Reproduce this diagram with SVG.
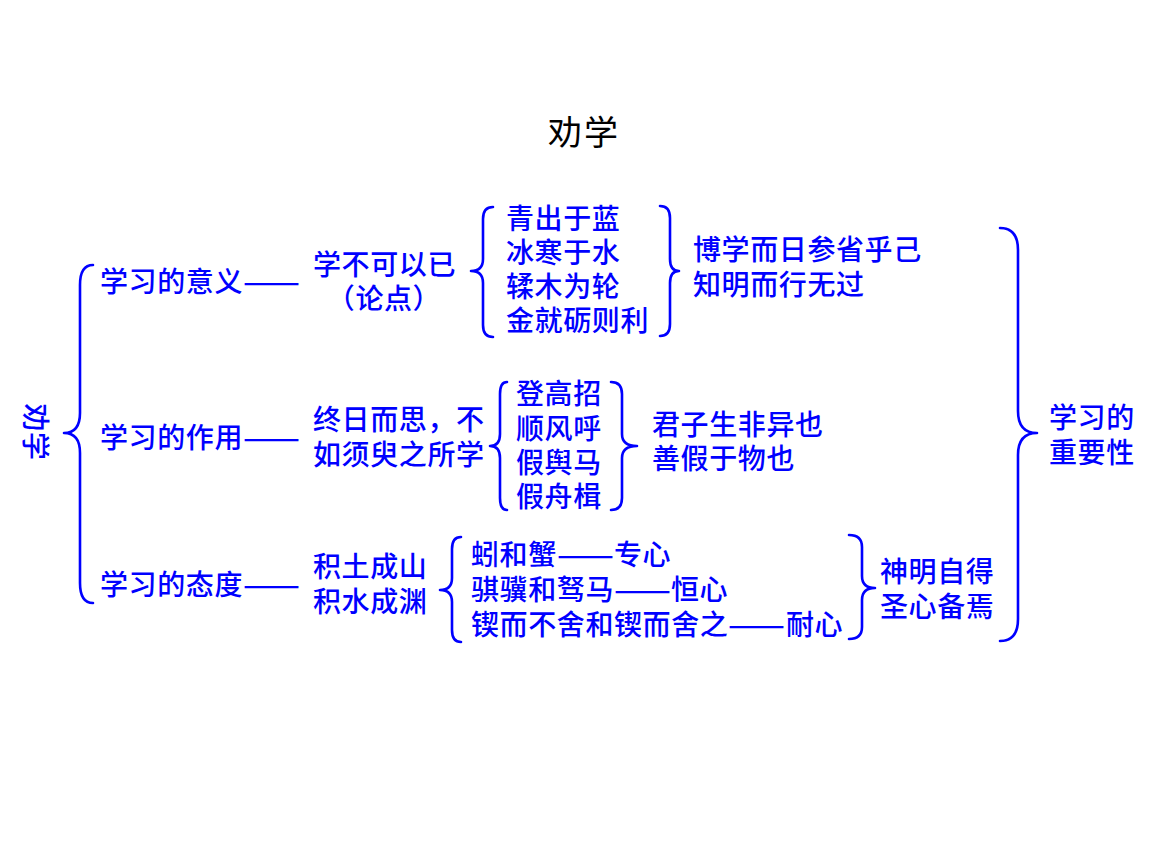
<svg xmlns="http://www.w3.org/2000/svg" width="1152" height="864" viewBox="0 0 1152 864">
<style>
.t{font-family:"Noto Sans CJK SC","Noto Sans CJK TC",sans-serif;font-size:28px;fill:#0000FF;font-weight:500;letter-spacing:0.6px}
.d{font-family:"Noto Sans CJK SC",sans-serif;font-size:28px;fill:#0000FF;font-weight:500}
.title{font-family:"Noto Sans CJK SC",sans-serif;font-size:34px;fill:#000;letter-spacing:2px}
.b{fill:none;stroke:#0000FF;stroke-width:2.6;stroke-linecap:round;stroke-linejoin:round}
</style>
<rect width="1152" height="864" fill="#fff"/>
<text class="title" x="584" y="145" text-anchor="middle">劝学</text>
<g id="root"><text class="t" transform="translate(35,432) rotate(90)" text-anchor="middle" y="10">劝学</text></g>
<g id="connectors">
<path class="b" d="M93,265 Q80,265 80,285 L80,413 Q80,433 64,433 Q80,433 80,453 L80,583 Q80,603 93,603"/>
<path class="b" d="M1000,228 Q1018,228 1018,250 L1018,411 Q1018,433 1037,433 Q1018,433 1018,455 L1018,619 Q1018,641 1000,641"/>
<path class="b" d="M493,207 Q483,207 483,219 L483,259 Q483,271 471,271 Q483,271 483,283 L483,325 Q483,337 493,337"/>
<path class="b" d="M660,206 Q670,206 670,218 L670,259 Q670,271 679,271 Q670,271 670,283 L670,324 Q670,336 660,336"/>
<path class="b" d="M507,382 Q500,382 500,394 L500,434 Q500,446 490,446 Q500,446 500,458 L500,498 Q500,510 507,510"/>
<path class="b" d="M611,382 Q622,382 622,394 L622,434 Q622,446 637,446 Q622,446 622,458 L622,498 Q622,510 611,510"/>
<path class="b" d="M461,537 Q452,537 452,549 L452,578 Q452,590 440,590 Q452,590 452,602 L452,630 Q452,642 461,642"/>
<path class="b" d="M849,535 Q862,535 862,547 L862,576 Q862,588 875,588 Q862,588 862,600 L862,627 Q862,639 849,639"/>
</g>
<g id="meaning"><text class="t" x="100" y="292">学习的意义</text><text class="d" x="243" y="292" textLength="57" lengthAdjust="spacingAndGlyphs">——</text></g>
<g id="thesis"><text class="t" x="313" y="275">学不可以已</text><text class="t" x="384" y="309" text-anchor="middle">（论点）</text></g>
<g id="examples1"><text class="t" x="506" y="229">青出于蓝</text><text class="t" x="506" y="263">冰寒于水</text><text class="t" x="506" y="297">𫐓木为轮</text><text class="t" x="506" y="331">金就砺则利</text></g>
<g id="conclusion1"><text class="t" x="693" y="260">博学而日参省乎己</text><text class="t" x="693" y="295">知明而行无过</text></g>
<g id="function"><text class="t" x="100" y="448">学习的作用</text><text class="d" x="243" y="448" textLength="57" lengthAdjust="spacingAndGlyphs">——</text></g>
<g id="quote2"><text class="t" x="313" y="430">终日而思，不</text><text class="t" x="313" y="465">如须臾之所学</text></g>
<g id="examples2"><text class="t" x="516" y="404">登高招</text><text class="t" x="516" y="439">顺风呼</text><text class="t" x="516" y="473">假舆马</text><text class="t" x="516" y="507">假舟楫</text></g>
<g id="conclusion2"><text class="t" x="652" y="435">君子生非异也</text><text class="t" x="652" y="469">善假于物也</text></g>
<g id="attitude"><text class="t" x="100" y="595">学习的态度</text><text class="d" x="243" y="595" textLength="57" lengthAdjust="spacingAndGlyphs">——</text></g>
<g id="quote3"><text class="t" x="313" y="577">积土成山</text><text class="t" x="313" y="612">积水成渊</text></g>
<g id="examples3">
<text class="t" x="471" y="565">蚓和蟹</text><text class="d" x="557" y="565" textLength="57" lengthAdjust="spacingAndGlyphs">——</text><text class="t" x="614" y="565">专心</text>
<text class="t" x="471" y="600">骐骥和驽马</text><text class="d" x="614" y="600" textLength="57" lengthAdjust="spacingAndGlyphs">——</text><text class="t" x="671" y="600">恒心</text>
<text class="t" x="471" y="635">锲而不舍和锲而舍之</text><text class="d" x="728" y="635" textLength="57" lengthAdjust="spacingAndGlyphs">——</text><text class="t" x="786" y="635">耐心</text>
</g>
<g id="conclusion3"><text class="t" x="880" y="582">神明自得</text><text class="t" x="880" y="617">圣心备焉</text></g>
<g id="importance"><text class="t" x="1049" y="428">学习的</text><text class="t" x="1049" y="463">重要性</text></g>
</svg>
